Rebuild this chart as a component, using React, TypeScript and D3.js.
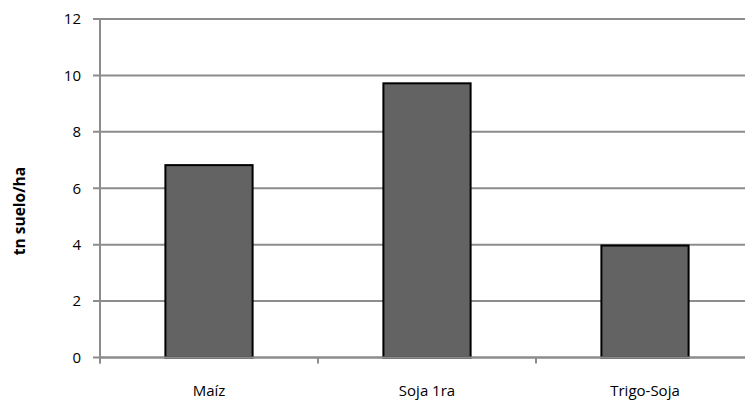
import React from "react";
import * as d3 from "d3";

const categories = ["Maíz", "Soja 1ra", "Trigo-Soja"];
const values = [6.82, 9.72, 3.97];
const yTicks = [0, 2, 4, 6, 8, 10, 12];
const yTitle = "tn suelo/ha";

export default function App() {
  const W = 745, H = 401;
  const left = 100, right = 754, top = 19, bottom = 357.5;
  const x = d3.scaleBand<string>().domain(categories).range([left, right]).paddingInner(0.6).paddingOuter(0.3);
  const y = d3.scaleLinear().domain([0, 12]).range([bottom, top]);
  const step = x.step();
  const font = "Open Sans, Lato, sans-serif";
  const grid = "#8c8c8c";
  return (
    <svg width={W} height={H} style={{ position: "absolute", left: 0, top: 0 }}>
      <rect width={W} height={H} fill="#fff" />
      {yTicks.map((t) => (
        <g key={t}>
          <line x1={93} x2={W} y1={y(t)} y2={y(t)} stroke={grid} strokeWidth={2} />
          <text x={81} y={y(t)} dy="0.36em" textAnchor="end" fontFamily={font} fontSize={15} fill="#000">
            {t}
          </text>
        </g>
      ))}
      <line x1={left} x2={left} y1={top} y2={bottom + 6} stroke={grid} strokeWidth={2} />
      {categories.map((c, i) => (
        <line key={"t" + i} x1={left + step * i} x2={left + step * i} y1={bottom} y2={bottom + 6} stroke={grid} strokeWidth={2} />
      ))}
      {categories.map((c, i) => (
        <g key={c}>
          <rect
            x={x(c)!}
            y={y(values[i])}
            width={x.bandwidth()}
            height={bottom - y(values[i])}
            fill="#636363"
            stroke="#000"
            strokeWidth={2}
          />
          <text x={x(c)! + x.bandwidth() / 2} y={396} textAnchor="middle" fontFamily={font} fontSize={15} fill="#000">
            {c}
          </text>
        </g>
      ))}
      <line x1={left} x2={W} y1={bottom} y2={bottom} stroke={grid} strokeWidth={2} />
      <text
        transform={`translate(25,211) rotate(-90)`}
        textAnchor="middle"
        fontFamily={font}
        fontWeight="bold"
        fontSize={15.5}
        fill="#000"
      >
        {yTitle}
      </text>
    </svg>
  );
}
